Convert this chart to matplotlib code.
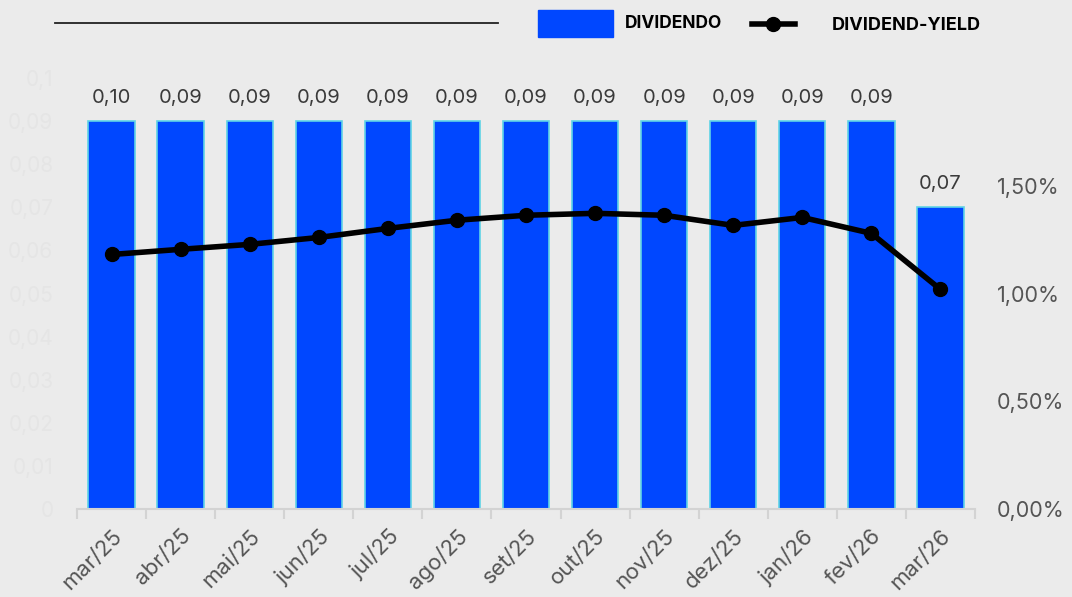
import matplotlib.pyplot as plt
from matplotlib.ticker import FuncFormatter, FixedLocator
import matplotlib.patches as mpatches
from matplotlib.lines import Line2D

plt.rcParams['font.family'] = ['Inter', 'DejaVu Sans']

months = ['mar/25', 'abr/25', 'mai/25', 'jun/25', 'jul/25', 'ago/25', 'set/25',
          'out/25', 'nov/25', 'dez/25', 'jan/26', 'fev/26', 'mar/26']
dividendo = [0.09, 0.09, 0.09, 0.09, 0.09, 0.09, 0.09, 0.09, 0.09, 0.09, 0.09, 0.09, 0.07]
div_labels = ['0,10', '0,09', '0,09', '0,09', '0,09', '0,09', '0,09', '0,09', '0,09',
              '0,09', '0,09', '0,09', '0,07']
dy = [1.181, 1.205, 1.228, 1.260, 1.302, 1.340, 1.363, 1.372, 1.363, 1.316, 1.353, 1.279, 1.019]

bg = '#ebebeb'
blue = '#0047ff'

fig = plt.figure(figsize=(10.72, 5.97), dpi=100, facecolor=bg)
ax = fig.add_axes([77 / 1072, 1 - 509 / 597, (975 - 77) / 1072, (509 - 78) / 597])
ax.set_facecolor(bg)

x = list(range(len(months)))
ax.bar(x, dividendo, width=0.67, color=blue, edgecolor='#5fd3e6', linewidth=1.2, zorder=2)
for xi, v, lab in zip(x, dividendo, div_labels):
    ax.annotate(lab, (xi, v), xytext=(0, 10), textcoords='offset points',
                ha='center', va='bottom', fontsize=14.5, color='#3a3a3a')

ax.set_xlim(-0.5, len(months) - 0.5)
ax.set_ylim(0, 0.1)
ax.set_yticks([i / 100 for i in range(11)])
ax.yaxis.set_major_formatter(FuncFormatter(
    lambda v, p: '0' if v == 0 else ('0,1' if abs(v - 0.1) < 1e-9 else f'{v:.2f}'.replace('.', ','))))
ax.tick_params(axis='y', length=0, labelsize=15, labelcolor='#e5e5e5', pad=17)

ax.set_xticks(x)
ax.set_xticklabels(months, rotation=45, ha='right', rotation_mode='anchor',
                   fontsize=16, color='#555555')
ax.tick_params(axis='x', which='major', length=0, pad=12)
ax.xaxis.set_minor_locator(FixedLocator([i - 0.5 for i in range(len(months) + 1)]))
ax.tick_params(axis='x', which='minor', length=7, color='#d3d3d3', width=1.5)

for s in ['top', 'right', 'left']:
    ax.spines[s].set_visible(False)
ax.spines['bottom'].set_color('#d3d3d3')
ax.spines['bottom'].set_linewidth(1.5)

ax2 = ax.twinx()
ax2.plot(x, dy, color='black', linewidth=4, marker='o', markersize=10, zorder=3)
ax2.set_ylim(0, 2.0)
ax2.set_yticks([0, 0.5, 1.0, 1.5])
ax2.yaxis.set_major_formatter(FuncFormatter(lambda v, p: f'{v:.2f}'.replace('.', ',') + '%'))
ax2.tick_params(axis='y', length=0, labelsize=15.5, labelcolor='#555555', pad=16)
for s in ax2.spines.values():
    s.set_visible(False)

# legend / header
fig.add_artist(Line2D([55 / 1072, 498 / 1072], [1 - 23 / 597] * 2, color='#222222', linewidth=1.3))
fig.patches.append(mpatches.Rectangle((538 / 1072, 1 - 37 / 597), 75 / 1072, 27 / 597,
                                      transform=fig.transFigure, color=blue))
fig.text(625 / 1072, 1 - 23 / 597, 'DIVIDENDO', fontsize=12.5, fontweight='bold',
         va='center', ha='left', color='black')
fig.add_artist(Line2D([752 / 1072, 795 / 1072], [1 - 24 / 597] * 2, color='black', linewidth=4))
fig.add_artist(Line2D([773 / 1072], [1 - 24 / 597], color='black', marker='o', markersize=10))
fig.text(832 / 1072, 1 - 25 / 597, 'DIVIDEND-YIELD', fontsize=13, fontweight='bold',
         va='center', ha='left', color='black')

fig.savefig('out.png', dpi=100, facecolor=bg)
